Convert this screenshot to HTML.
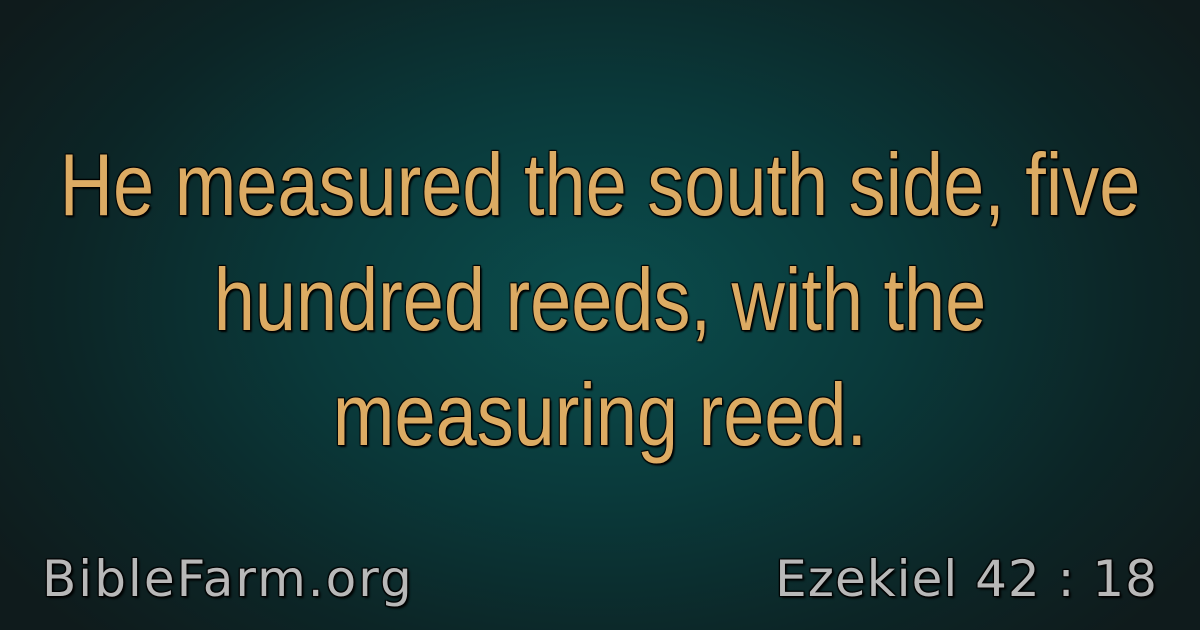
<!DOCTYPE html>
<html><head><meta charset="utf-8"><style>
html,body{margin:0;padding:0;}
body{width:1200px;height:630px;overflow:hidden;position:relative;
background:radial-gradient(ellipse 720px 480px at 600px 300px,#0b4d4d 0%,#0a3a3b 40%,#0c2526 75%,#0f1b1c 100%);
font-family:"Liberation Sans",sans-serif;}
.line{position:absolute;left:600px;color:#dcab63;font-size:88px;line-height:100px;white-space:nowrap;
transform:translateX(-50%) scaleX(0.84);transform-origin:center;
text-shadow:2px 2px 2px #000,-1px -1px 1px #000,1px -1px 1px #000,-1px 1px 1px #000;}
.foot{position:absolute;top:550px;font-size:50px;color:#b8b8b8;font-family:"DejaVu Sans","Liberation Sans",sans-serif;
text-shadow:2px 2px 2px #000,-1px -1px 1px #000,1px -1px 1px #000,-1px 1px 1px #000;white-space:nowrap;}
</style></head><body>
<div class="line" style="top:135px">He measured the south side, five</div>
<div class="line" style="top:250px">hundred reeds, with the</div>
<div class="line" style="top:365px">measuring reed.</div>
<div class="foot" style="left:42px;letter-spacing:2px">BibleFarm.org</div>
<div class="foot" style="right:42px;letter-spacing:1px">Ezekiel 42 : 18</div>
</body></html>
